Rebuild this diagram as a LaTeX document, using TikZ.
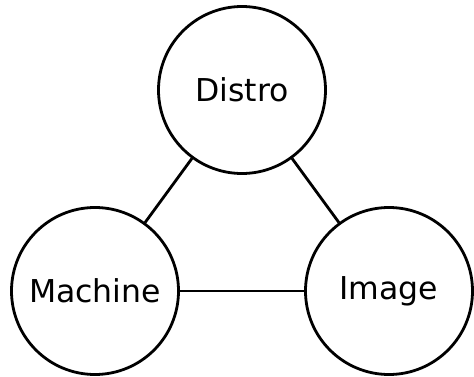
\documentclass[tikz,border=0pt]{standalone}
\usepackage{fontspec}
\setmainfont{DejaVu Sans}
\begin{document}
\begin{tikzpicture}[x=1pt,y=1pt,
  entity/.style={circle,draw=black,line width=2.8pt,minimum size=167pt,inner sep=0pt,font=\fontsize{31.5}{37}\selectfont},
  link/.style={draw=black,line width=2.8pt}]
\useasboundingbox (0,0) rectangle (474,376);
\node[entity] (distro) at (242,286) {Distro};
\node[entity] (machine) at (95,85) {Machine};
\node[entity] (image) at (389,85) {Image};
\draw[link] (distro) -- (machine);
\draw[link] (distro) -- (image);
\draw[link] (machine) -- (image);
\end{tikzpicture}
\end{document}
